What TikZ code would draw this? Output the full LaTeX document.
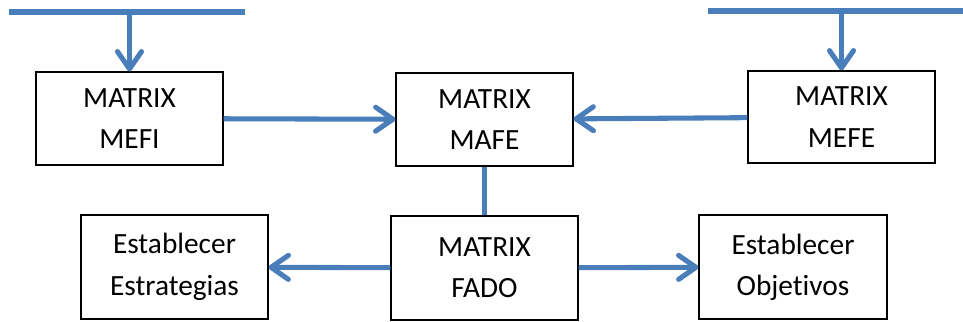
\documentclass[tikz,border=0pt]{standalone}
\usepackage{fontspec}
\setmainfont{Carlito}[Ligatures=NoCommon]
\usetikzlibrary{arrows.meta}
\definecolor{linkblue}{RGB}{74,126,187}

\begin{document}
\begin{tikzpicture}[x=0.75pt,y=-0.75pt,
		box/.style={draw,line width=0.8pt,align=center,inner sep=0pt,
			font=\fontsize{22}{31}\selectfont},
		link/.style={linkblue,line width=3.8pt},
		flow/.style={link,-{Straight Barb[length=13pt,width=18pt,round]}}]
		\useasboundingbox (0,0) rectangle (963,321);
		% upper row
		\node[box,minimum width=140.25pt,minimum height=69.75pt] (mefi) at (129.5,118.5) {MATRIX\\MEFI};
		\node[box,minimum width=132.75pt,minimum height=69.75pt] (mafe) at (484.5,119.5) {MATRIX\\MAFE};
		\node[box,minimum width=140.25pt,minimum height=69pt] (mefe) at (841.5,117) {MATRIX\\MEFE};
		% lower row
		\node[box,minimum width=140.25pt,minimum height=78pt] (estr) at (174.5,267) {Establecer\\Estrategias};
		\node[box,minimum width=140.25pt,minimum height=78pt] (fado) at (484.5,268) {MATRIX\\FADO};
		\node[box,minimum width=141pt,minimum height=78pt] (obj) at (793,267) {Establecer\\Objetivos};
		% input bars
		\coordinate (barLa) at (9,12);
		\coordinate (barLb) at (245,12);
		\coordinate (barRa) at (708,11);
		\coordinate (barRb) at (963,11);
		\draw[link](barLa)--(barLb);
		\draw[link](barRa)--(barRb);
		\draw[flow](mefi.north|-barLa)--(mefi.north);
		\draw[flow](mefe.north|-barRa)--(mefe.north);
		% connections
		\draw[flow](mefi)--(mafe);
		\draw[flow](mefe)--(mafe);
		\draw[link](mafe)--(fado);
		\draw[flow](fado)--(estr);
		\draw[flow](fado)--(obj);
\end{tikzpicture}
\end{document}
